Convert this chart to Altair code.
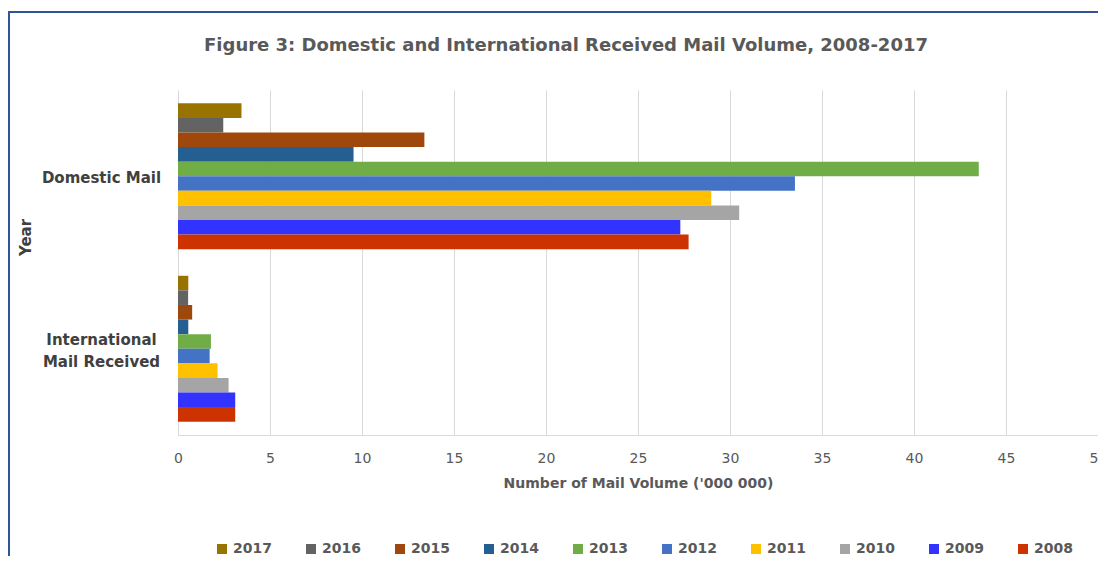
import altair as alt
import pandas as pd

categories = ["Domestic Mail", "International Mail Received"]
years = ["2017", "2016", "2015", "2014", "2013", "2012", "2011", "2010", "2009", "2008"]
domestic = [3.45, 2.46, 13.39, 9.54, 43.52, 33.53, 28.98, 30.50, 27.30, 27.75]
international = [0.56, 0.55, 0.77, 0.56, 1.79, 1.72, 2.15, 2.75, 3.11, 3.11]
colors = ["#997300", "#636363", "#9E480E", "#255E91", "#70AD47",
          "#4472C4", "#FFC000", "#A5A5A5", "#3333FF", "#CC3300"]
x_ticks = [0, 5, 10, 15, 20, 25, 30, 35, 40, 45, 50]

rows = []
for yr, d, i in zip(years, domestic, international):
    rows.append({"category": categories[0], "year": yr, "value": d})
    rows.append({"category": categories[1], "year": yr, "value": i})
df = pd.DataFrame(rows)

FONT = "DejaVu Sans"

bars = alt.Chart(df).mark_bar().encode(
    x=alt.X(
        "value:Q",
        scale=alt.Scale(domain=[0, 50], nice=False),
        axis=alt.Axis(
            values=x_ticks, title="Number of Mail Volume ('000 000)",
            grid=True, gridColor="#D9D9D9", domainColor="#D9D9D9",
            ticks=False, labelPadding=16, labelFontSize=14, labelColor="#595959",
            labelFlush=False,
            labelFont=FONT, titleFont=FONT, titleFontSize=14, titleFontWeight="bold",
            titleColor="#595959", titlePadding=11,
        ),
    ),
    y=alt.Y(
        "category:N", sort=categories,
        scale=alt.Scale(paddingInner=0.154, paddingOuter=0.077),
        axis=alt.Axis(
            title="Year", ticks=False, domainColor="#D9D9D9",
            labelAlign="center", labelBaseline="middle", labelPadding=77,
            labelOffset={"condition": {"test": "datum.value === 'International Mail Received'", "value": -9}, "value": 2},
            labelFont=FONT, labelFontWeight="bold", labelFontSize=15,
            labelColor="#404040", labelLineHeight=22,
            labelExpr="datum.label == 'International Mail Received' ? ['International', 'Mail Received'] : datum.label",
            titleFont=FONT, titleFontSize=15, titleFontWeight="bold", titleColor="#404040",
            titleX=-153, titleY=147, titleAlign="center", titleBaseline="middle",
        ),
    ),
    yOffset=alt.YOffset("year:N", sort=years, scale=alt.Scale(paddingInner=0, paddingOuter=0)),
    color=alt.Color(
        "year:N",
        scale=alt.Scale(domain=years, range=colors),
        legend=alt.Legend(
            title=None, orient="none", legendX=37, legendY=452,
            direction="horizontal", columns=10, symbolType="square", symbolSize=100,
            symbolStrokeWidth=0, labelFont=FONT, labelFontSize=14, labelFontWeight="bold",
            labelColor="#595959", labelOffset=4, columnPadding=32,
        ),
    ),
)

frame_src = pd.DataFrame({"k": [0]})
top_line = alt.Chart(frame_src).mark_rule(color="#2F5597", strokeWidth=2).encode(
    x=alt.value(-169), x2=alt.value(920), y=alt.value(-78)
)
left_line = alt.Chart(frame_src).mark_rule(color="#2F5597", strokeWidth=2).encode(
    x=alt.value(-169), y=alt.value(-79), y2=alt.value(466)
)

chart = alt.layer(bars, top_line, left_line).properties(
    width=920,
    height=345,
    autosize=alt.AutoSizeParams(type="none"),
    padding={"left": 170, "top": 82, "right": 0, "bottom": 121},
    title=alt.TitleParams(
        "Figure 3: Domestic  and International Received  Mail Volume, 2008-2017",
        font=FONT, fontSize=18, fontWeight="bold", color="#595959",
        anchor="middle", frame="group", dx=-72, offset=-45,
    ),
).configure_view(stroke=None)

chart.save("out.html", embed_options={"renderer": "svg", "actions": False})
